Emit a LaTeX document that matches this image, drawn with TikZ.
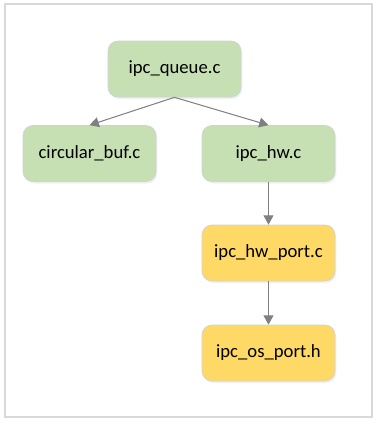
\documentclass[tikz,border=0pt]{standalone}
\usepackage{fontspec}
\setmainfont{Carlito}
\usetikzlibrary{arrows.meta,positioning,shadows}
\definecolor{filegreen}{HTML}{C6E0B4}
\definecolor{fileyellow}{HTML}{FFD966}
\definecolor{framegray}{HTML}{D9D9D9}
\definecolor{linkgray}{HTML}{808080}

\begin{document}
\begin{tikzpicture}[
  x=0.75pt,
  y=-0.75pt,
  file/.style={rectangle, rounded corners=7.5pt, draw=black!18, line width=0.5pt,
    minimum width=99.75pt, minimum height=42pt, inner sep=2pt,
    font=\fontsize{14}{17}\selectfont,
    drop shadow={opacity=0.12, shadow xshift=1pt, shadow yshift=-1.5pt}},
  srcfile/.style={file, fill=filegreen},
  portfile/.style={file, fill=fileyellow},
  dep/.style={-{Triangle[length=7pt, width=7.5pt]}, draw=linkgray, fill=linkgray, line width=0.75pt}
]
\useasboundingbox (0,0) rectangle (378,425);
\draw[framegray, line width=1.2pt] (5,4) rectangle (372,417);

\node[srcfile] (queue) at (174.5,69) {ipc\_queue.c};
\node[srcfile] (circbuf) at (89.5,153.5) {circular\_buf.c};
\node[srcfile] (hw) at (268.5,153.5) {ipc\_hw.c};
\node[portfile] (hwport) at (268.5,253) {ipc\_hw\_port.c};
\node[portfile] (osport) at (268.5,353) {ipc\_os\_port.h};

\draw[dep] (queue.south) -- (circbuf.north);
\draw[dep] (queue.south) -- (hw.north);
\draw[dep] (hw) -- (hwport);
\draw[dep] (hwport) -- (osport);
\end{tikzpicture}
\end{document}
